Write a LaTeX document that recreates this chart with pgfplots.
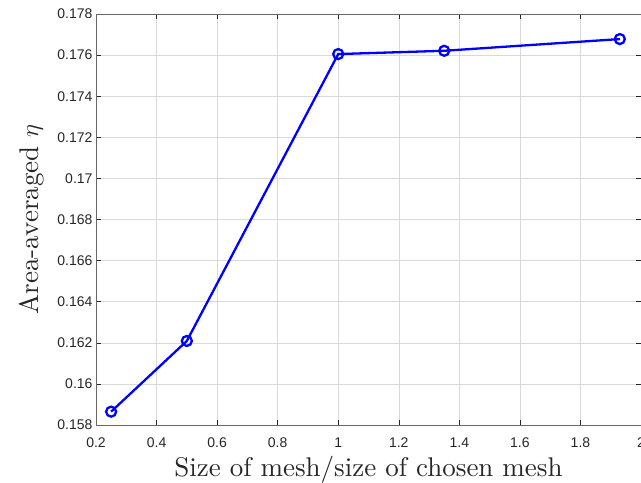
\documentclass[border=0pt]{standalone}
\usepackage{pgfplots}
\pgfplotsset{compat=1.18}
\usepackage{fontspec}
\setmainfont{lmroman10-regular}[Extension=.otf]
\newfontfamily\ticksans{Liberation Sans}
\definecolor{axgray}{RGB}{38,38,38}
\begin{document}
\begin{tikzpicture}
\begin{axis}[
  name=ax,
  scale only axis,
  width=545pt, height=411pt,
  xmin=0.2, xmax=2, ymin=0.158, ymax=0.178,
  xtick={0.2,0.4,...,2.01},
  ytick={0.158,0.16,...,0.1785},
  scaled y ticks=false, scaled x ticks=false,
  yticklabel style={/pgf/number format/fixed,/pgf/number format/precision=3},
  xticklabel style={yshift=-9pt,/pgf/number format/fixed,/pgf/number format/precision=1},
  /pgf/number format/assume math mode=true,
  tick label style={font=\ticksans\fontsize{14}{16}\selectfont, text=axgray},
  tick align=inside, tick pos=both,
  major tick length=5pt,
  axis line style={draw=axgray!70, line width=0.6pt},
  tick style={draw=axgray, line width=0.5pt},
  grid=major,
  major grid style={draw=black!15, line width=0.5pt},
  xlabel={Size of mesh/size of chosen mesh},
  ylabel={Area-averaged $\eta$},
  label style={font=\fontsize{27}{31}\selectfont, text=axgray},
  xlabel style={at={(axis description cs:0.5,-0.1241)}, anchor=base},
  ylabel style={at={(axis description cs:-0.1064,0.5)}, anchor=base},
]
\addplot[blue, line width=2.3pt, mark=o, mark size=5pt, mark options={line width=2.3pt, fill=white}]
coordinates {(0.25,0.15865) (0.5,0.16209) (1,0.17605) (1.35,0.17621) (1.93,0.17678)};
\end{axis}
\pgfresetboundingbox
\path ([shift={(-96pt,-57pt)}]ax.south west) rectangle ([shift={(0pt,14pt)}]ax.north east);
\end{tikzpicture}
\end{document}
